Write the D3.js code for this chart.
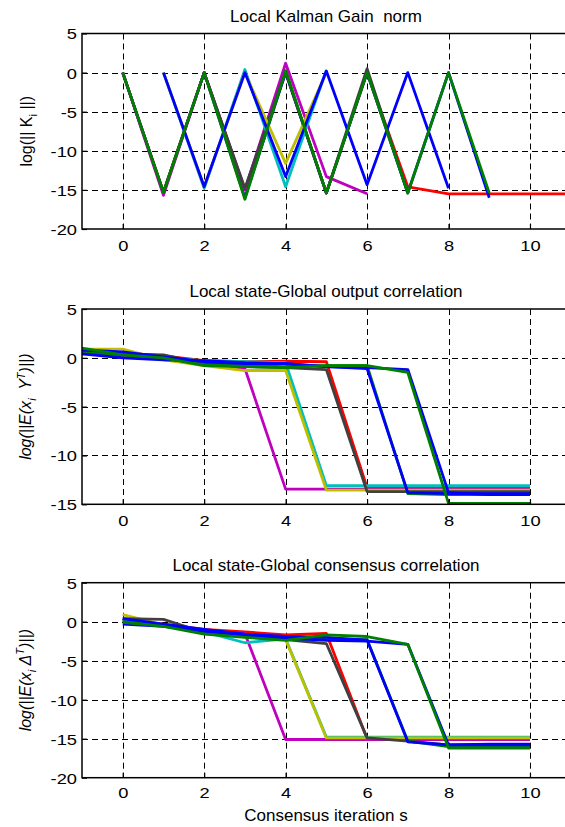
<!DOCTYPE html>
<html><head><meta charset="utf-8">
<script src="https://cdn.jsdelivr.net/npm/d3@7"></script>
<style>
body{margin:0;background:#fff}
text{font-family:"Liberation Sans",Arial,Helvetica,sans-serif;fill:#000;white-space:pre}
</style>
</head><body>
<svg id="chart" width="565" height="827"></svg>
<script>
// ---------------- data ----------------
const iterations = [-1, 0, 1, 2, 3, 4, 5, 6, 7, 8, 9, 10, 11];
const xTickValues = [0, 2, 4, 6, 8, 10];
const yTicksGain = [5, 0, -5, -10, -15, -20];
const yTicksOutput = [5, 0, -5, -10, -15];
const yTicksConsensus = [5, 0, -5, -10, -15, -20];

const titles = ["Local Kalman Gain  norm", "Local state-Global output correlation", "Local state-Global consensus correlation"];
const xLabel = "Consensus iteration s";

// Panel 1: log(||K_i||), values for iterations -1..11
const gainRed     = [null, 0, -15.3, 0, -15.0, 0, -15.4, 0, -14.6, -15.5, -15.5, -15.5, -15.5];
const gainBlue2   = [null, 0, -15.4, 0, -16.0, 0, -15.4, 0, -15.4, 0, -16.0, null, null];
const gainMagenta = [null, 0, -15.7, 0, -15.0, 1.2, -13.3, -15.5, null, null, null, null, null];
const gainGray    = [null, 0, -15.3, 0, -14.8, 0.2, -15.4, 0.5, -15.4, null, null, null, null];
const gainCyan    = [null, null, 0, -14.8, 0.4, -14.6, 0.3, null, null, null, null, null, null];
const gainYellow  = [null, null, 0, -14.6, 0, -11.6, 0, null, null, null, null, null, null];
const gainBlue1   = [null, null, 0, -14.6, 0, -13.3, 0.2, -14.35, 0, -14.8, null, null, null];
const gainGreen   = [null, 0, -15.3, 0, -16.2, 0.2, -15.4, 0, -15.4, 0, -15.4, null, null];

// Panel 2: log(||E(x_i Y^T)||), values for iterations -1..10
const outRed      = [0.7, 0.5, 0.2, -0.3, -0.4, -0.35, -0.4, -13.3, -13.3, -13.3, -13.3, -13.3];
const outMagenta  = [0.5, 0.2, 0.0, -0.5, -1.1, -13.45, -13.45, -13.45, -13.45, -13.45, -13.45, -13.45];
const outCyan     = [0.6, 0.4, 0.0, -0.3, -0.4, -0.5, -13.1, -13.1, -13.1, -13.1, -13.1, -13.1];
const outYellow   = [0.9, 0.9, -0.2, -0.8, -1.3, -1.3, -13.55, -13.55, -13.55, -13.55, -13.55, -13.55];
const outGray     = [0.4, 0.4, 0.3, -0.6, -0.9, -1.0, -1.2, -13.7, -13.7, -13.7, -13.7, -13.7];
const outGreen2   = [0.7, 0.3, 0.0, -0.7, -0.8, -0.9, -0.8, -0.8, -13.9, -14.0, -14.0, -14.0];
const outBlue1    = [0.4, 0.0, -0.2, -0.3, -0.5, -0.6, -0.9, -1.1, -13.8, -13.9, -13.9, -13.9];
const outBlue2    = [0.8, 0.6, 0.1, -0.4, -0.6, -0.6, -0.9, -1.0, -1.2, -13.8, -14.0, -14.0];
const outGreen1   = [1.0, 0.3, 0.0, -0.8, -0.9, -1.0, -0.8, -0.8, -1.5, -14.9, -14.9, -14.9];

// Panel 3: log(||E(x_i Delta^T)||), values for iterations -1..10
const consRed     = [null, 0.2, -0.3, -1.0, -1.3, -1.7, -1.5, -15.0, -15.0, -15.0, -15.0, -15.0];
const consMagenta = [null, 0.2, -0.5, -1.4, -1.5, -15.1, -15.1, -15.1, -15.1, -15.1, -15.1, -15.1];
const consCyan    = [null, 0.3, -0.4, -1.3, -2.7, -2.2, -14.8, -14.8, -14.8, -14.8, -14.8, -14.8];
const consYellow  = [null, 0.9, -0.4, -1.4, -1.9, -2.3, -14.9, -14.9, -14.9, -14.9, -14.9, -14.9];
const consGray    = [null, 0.4, 0.3, -1.4, -1.9, -2.3, -2.8, -14.9, -15.3, -15.8, -15.85, -15.85];
const consGreen2  = [null, 0.0, -0.5, -1.5, -1.9, -2.3, -2.2, -2.3, -15.3, -16.0, -16.1, -16.1];
const consBlue1   = [null, 0.4, -0.3, -1.0, -1.6, -1.9, -2.0, -2.35, -15.4, -15.8, -15.7, -15.7];
const consBlue2   = [null, -0.3, -0.6, -1.2, -1.7, -2.1, -2.4, -2.5, -2.9, -15.8, -15.8, -15.8];
const consGreen1  = [null, -0.1, -0.6, -1.6, -2.0, -2.4, -1.7, -1.9, -2.9, -16.2, -16.2, -16.2];

const C = {blue:"#0000ff", green:"#008000", red:"#ff0000", cyan:"#00bfbf",
           magenta:"#bf00bf", yellow:"#bfbf00", gray:"#404040"};

// ---------------- drawing ----------------
const svg = d3.select("#chart");
const x = d3.scaleLinear().domain([-1, 11]).range([82, 570.7]);
const cx = 326;

function drawPanel(cfg, idx) {
  const y = d3.scaleLinear().domain(cfg.ydom).range([cfg.bottom, cfg.top]);
  const g = svg.append("g");
  const clipId = "clip" + idx;
  svg.append("clipPath").attr("id", clipId).append("rect")
    .attr("x", x(-1)).attr("y", cfg.top).attr("width", x(11) - x(-1)).attr("height", cfg.bottom - cfg.top);

  // grid
  const grid = g.append("g").attr("stroke", "#000").attr("stroke-width", 1).attr("stroke-dasharray", "6,4");
  grid.selectAll("line.v").data(xTickValues).join("line").attr("class", "v")
    .attr("x1", d => Math.round(x(d)) + 0.5).attr("x2", d => Math.round(x(d)) + 0.5)
    .attr("y1", cfg.top).attr("y2", cfg.bottom);
  grid.selectAll("line.h").data(cfg.yticks.filter(d => d !== cfg.ydom[0] && d !== cfg.ydom[1])).join("line").attr("class", "h")
    .attr("x1", x(-1)).attr("x2", x(11))
    .attr("y1", d => Math.round(y(d)) + 0.5).attr("y2", d => Math.round(y(d)) + 0.5);

  // series
  const line = d3.line().defined(d => d[1] != null).x(d => x(d[0])).y(d => y(d[1]));
  const lg = g.append("g").attr("clip-path", `url(#${clipId})`);
  cfg.series.forEach(s => {
    lg.append("path")
      .datum(iterations.map((it, i) => [it, s.values[i]]))
      .attr("d", line).attr("fill", "none").attr("stroke", s.color)
      .attr("stroke-width", 2.8).attr("stroke-linejoin", "round");
  });

  // axes
  const ax = g.append("g").attr("transform", `translate(0,${cfg.bottom})`)
    .call(d3.axisBottom(x).tickValues(xTickValues).tickSize(-5).tickPadding(10).tickFormat(d => String(d)));
  const ay = g.append("g").attr("transform", `translate(${x(-1)},0)`)
    .call(d3.axisLeft(y).tickValues(cfg.yticks).tickSize(-5).tickPadding(5 / 1.22).tickFormat(d => String(d)));
  [ax, ay].forEach(a => {
    a.select(".domain").remove();
    a.selectAll(".tick line").attr("stroke", "#000").attr("stroke-width", 1.2);
    a.selectAll("text").attr("font-size", 15).attr("font-family", null)
      .attr("transform", "scale(1.22,1)");
  });
  ax.selectAll("text").attr("y", cfg.xlabOff).attr("dy", null);
  ay.selectAll("text").attr("dy", "0.36em");

  // box
  g.append("rect").attr("x", x(-1)).attr("y", cfg.top)
    .attr("width", x(11) - x(-1)).attr("height", cfg.bottom - cfg.top)
    .attr("fill", "none").attr("stroke", "#000").attr("stroke-width", 1.5);

  // title
  g.append("text").attr("x", cx).attr("y", cfg.titleY).attr("text-anchor", "middle")
    .attr("font-size", 17).text(cfg.title);

  // y label
  const yl = g.append("text")
    .attr("transform", `translate(${cfg.ylabX},${(cfg.top + cfg.bottom) / 2}) rotate(-90)`)
    .attr("text-anchor", "middle").attr("font-size", 16)
    .attr("font-style", cfg.italic ? "italic" : "normal");
  cfg.ylabel.forEach(p => {
    yl.append("tspan").attr("dy", p.dy || 0).attr("font-size", p.small ? 11 : null).text(p.t);
  });
}

drawPanel({
  top: 33.5, bottom: 229, ydom: [-20, 5], yticks: yTicksGain, title: titles[0], titleY: 22,
  xlabOff: 22, ylabX: 32, italic: false,
  ylabel: [{t: "log(|| K"}, {t: "i", small: true, dy: 5}, {t: " ||)", dy: -5}],
  series: [
    {values: gainRed, color: C.red}, {values: gainBlue2, color: C.blue},
    {values: gainMagenta, color: C.magenta}, {values: gainGray, color: C.gray},
    {values: gainCyan, color: C.cyan}, {values: gainYellow, color: C.yellow},
    {values: gainBlue1, color: C.blue}, {values: gainGreen, color: C.green}
  ]
}, 1);

drawPanel({
  top: 309, bottom: 504.3, ydom: [-15, 5], yticks: yTicksOutput, title: titles[1], titleY: 297,
  xlabOff: 22, ylabX: 31, italic: true,
  ylabel: [{t: "log(||E(x"}, {t: "i", small: true, dy: 5}, {t: "  Y", dy: -5}, {t: "T", small: true, dy: -6}, {t: ")||)", dy: 6}],
  series: [
    {values: outRed, color: C.red}, {values: outMagenta, color: C.magenta},
    {values: outCyan, color: C.cyan}, {values: outYellow, color: C.yellow},
    {values: outGray, color: C.gray}, {values: outGreen2, color: C.green},
    {values: outBlue1, color: C.blue}, {values: outBlue2, color: C.blue},
    {values: outGreen1, color: C.green}
  ]
}, 2);

drawPanel({
  top: 582.7, bottom: 777.7, ydom: [-20, 5], yticks: yTicksConsensus, title: titles[2], titleY: 571,
  xlabOff: 20, ylabX: 31, italic: true,
  ylabel: [{t: "log(||E(x"}, {t: "i", small: true, dy: 5}, {t: " Δ", dy: -5}, {t: "T", small: true, dy: -7}, {t: ")||)", dy: 7}],
  series: [
    {values: consRed, color: C.red}, {values: consMagenta, color: C.magenta},
    {values: consCyan, color: C.cyan}, {values: consYellow, color: C.yellow},
    {values: consGray, color: C.gray}, {values: consGreen2, color: C.green},
    {values: consBlue1, color: C.blue}, {values: consBlue2, color: C.blue},
    {values: consGreen1, color: C.green}
  ]
}, 3);

svg.append("text").attr("x", cx).attr("y", 821).attr("text-anchor", "middle")
  .attr("font-size", 17).text(xLabel);
</script>
</body></html>
